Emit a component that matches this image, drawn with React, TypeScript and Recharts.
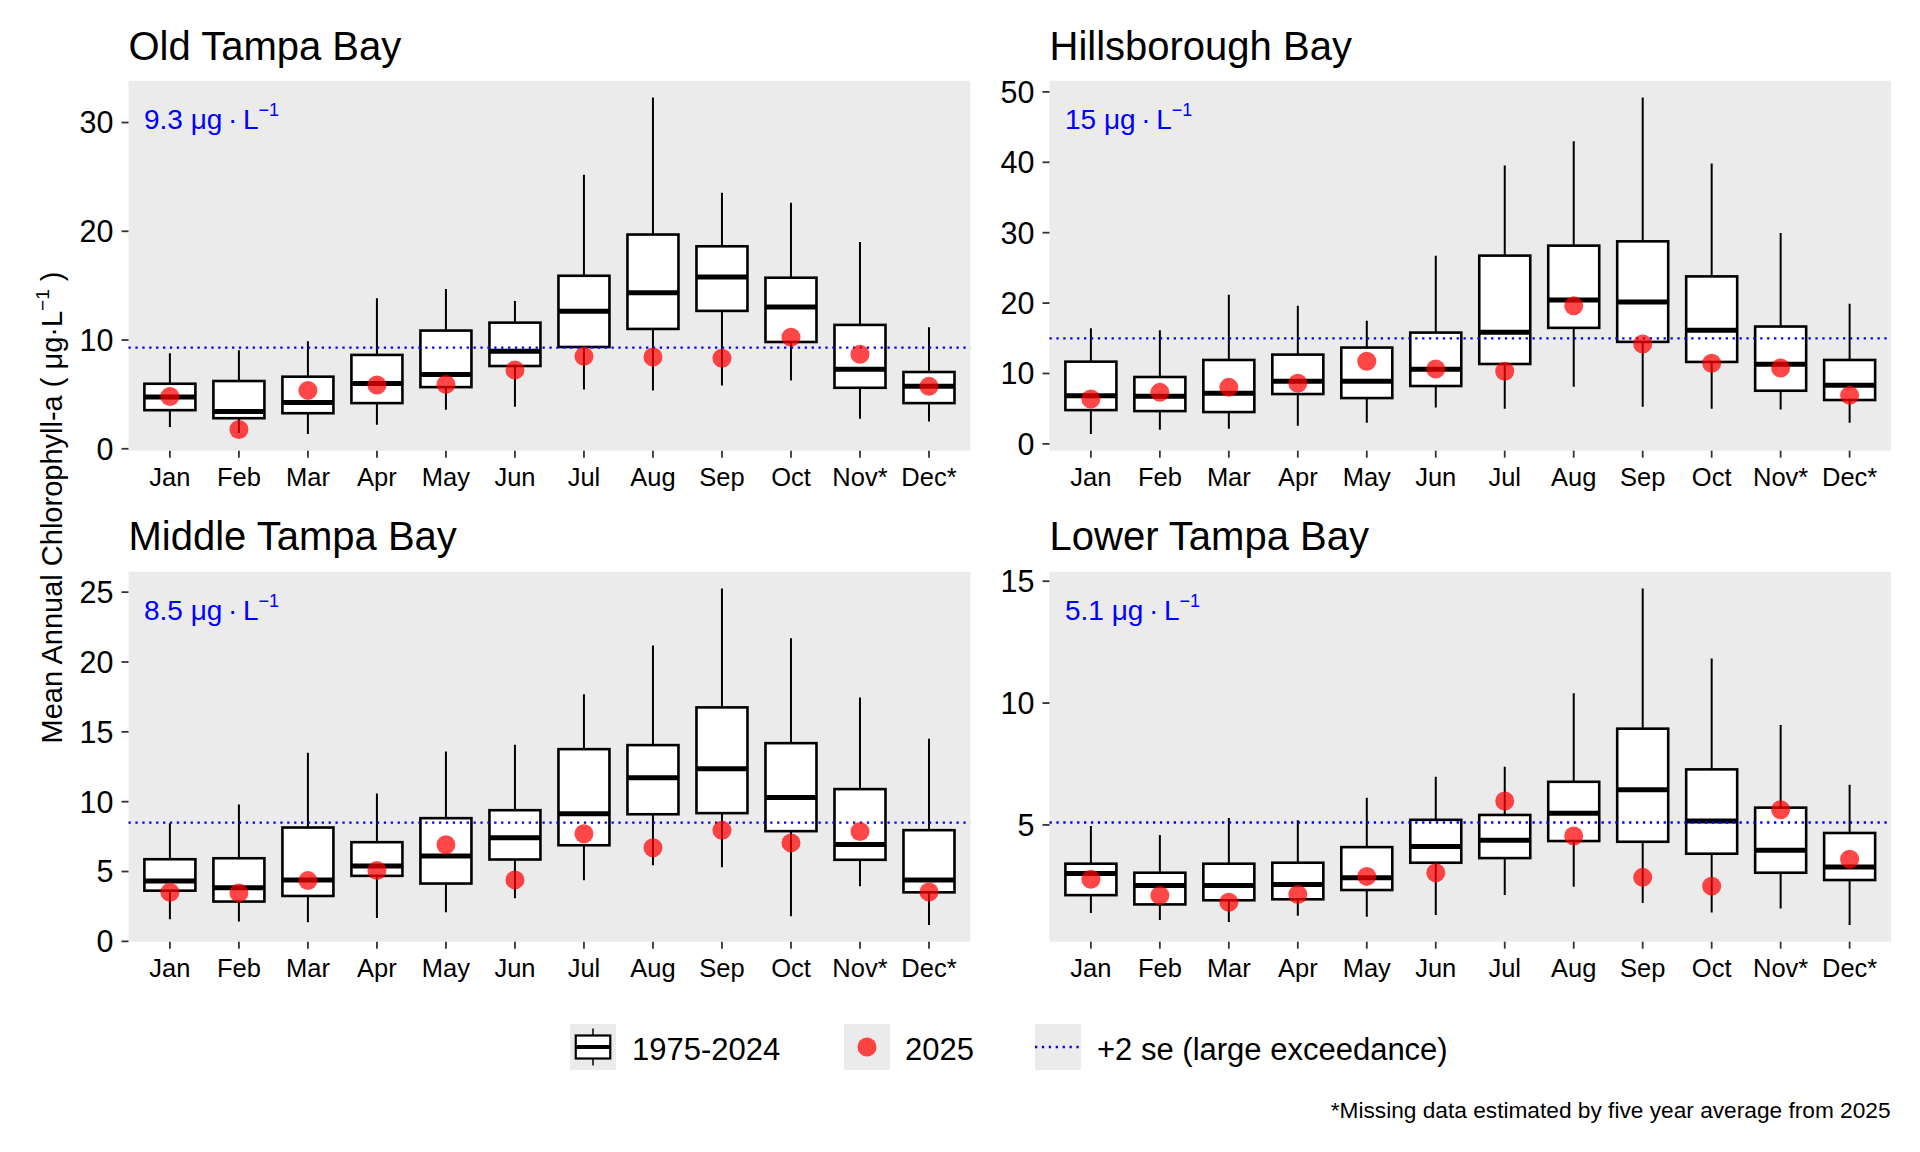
import React from 'react';
import { ComposedChart, Bar, Scatter, XAxis, YAxis, CartesianGrid, ReferenceLine } from 'recharts';

const MONTHS = ['Jan', 'Feb', 'Mar', 'Apr', 'May', 'Jun', 'Jul', 'Aug', 'Sep', 'Oct', 'Nov*', 'Dec*'];

// Old Tampa Bay (1975-2024 box stats and 2025 values)
const OTB_MIN = [2.0, 1.46, 1.37, 2.2, 3.58, 3.86, 5.46, 5.37, 5.83, 6.29, 2.75, 2.51];
const OTB_Q1 = [3.55, 2.81, 3.27, 4.2, 5.67, 7.61, 9.36, 11.02, 12.68, 9.82, 5.61, 4.2];
const OTB_MED = [4.75, 3.43, 4.26, 6.01, 6.84, 8.96, 12.65, 14.35, 15.79, 13.03, 7.31, 5.74];
const OTB_Q3 = [5.98, 6.23, 6.63, 8.63, 10.87, 11.6, 15.91, 19.7, 18.62, 15.73, 11.39, 7.06];
const OTB_MAX = [8.78, 9.06, 9.89, 13.85, 14.69, 13.58, 25.2, 32.3, 23.54, 22.62, 19.02, 11.18];
const OTB_2025 = [4.81, 1.77, 5.37, 5.86, 5.92, 7.24, 8.5, 8.44, 8.32, 10.26, 8.69, 5.74];
const OTB_TICKS = [0, 10, 20, 30];
const OTB_THRESH = 9.3;

// Hillsborough Bay
const HB_MIN = [1.42, 1.99, 2.14, 2.56, 2.99, 5.18, 4.99, 8.12, 5.27, 4.99, 4.9, 2.99];
const HB_Q1 = [4.8, 4.66, 4.52, 7.08, 6.51, 8.22, 11.35, 16.48, 14.49, 11.64, 7.55, 6.23];
const HB_MED = [6.84, 6.75, 7.18, 8.89, 8.89, 10.6, 15.87, 20.43, 20.14, 16.15, 11.31, 8.32];
const HB_Q3 = [11.68, 9.5, 11.92, 12.68, 13.68, 15.81, 26.74, 28.16, 28.77, 23.79, 16.67, 11.92];
const HB_MAX = [16.44, 16.15, 21.18, 19.62, 17.48, 26.74, 39.56, 42.98, 49.2, 39.84, 29.97, 19.9];
const HB_2025 = [6.37, 7.32, 8.03, 8.6, 11.74, 10.64, 10.31, 19.62, 14.2, 11.45, 10.78, 6.89];
const HB_TICKS = [0, 10, 20, 30, 40, 50];
const HB_THRESH = 15;

// Middle Tampa Bay
const MTB_MIN = [1.58, 1.43, 1.36, 1.68, 2.08, 3.08, 4.37, 5.45, 5.3, 1.79, 3.94, 1.18];
const MTB_Q1 = [3.63, 2.85, 3.25, 4.69, 4.14, 5.86, 6.88, 9.1, 9.18, 7.89, 5.84, 3.51];
const MTB_MED = [4.33, 3.83, 4.4, 5.4, 6.12, 7.41, 9.13, 11.71, 12.36, 10.3, 6.93, 4.4];
const MTB_Q3 = [5.88, 5.95, 8.15, 7.1, 8.82, 9.39, 13.76, 14.05, 16.75, 14.19, 10.9, 7.96];
const MTB_MAX = [8.46, 9.8, 13.5, 10.59, 13.6, 14.08, 17.69, 21.18, 25.26, 21.7, 17.45, 14.51];
const MTB_2025 = [3.51, 3.47, 4.35, 5.07, 6.91, 4.4, 7.7, 6.7, 7.96, 7.05, 7.86, 3.54];
const MTB_TICKS = [0, 5, 10, 15, 20, 25];
const MTB_THRESH = 8.5;

// Lower Tampa Bay
const LTB_MIN = [1.39, 1.1, 1.02, 1.27, 1.23, 1.31, 2.13, 2.46, 1.8, 1.41, 1.57, 0.9];
const LTB_Q1 = [2.12, 1.74, 1.91, 1.95, 2.33, 3.45, 3.64, 4.34, 4.31, 3.82, 3.04, 2.74];
const LTB_MED = [3.01, 2.52, 2.52, 2.56, 2.83, 4.12, 4.37, 5.48, 6.44, 5.16, 3.96, 3.27];
const LTB_Q3 = [3.41, 3.04, 3.41, 3.45, 4.09, 5.21, 5.41, 6.77, 8.95, 7.28, 5.71, 4.67];
const LTB_MAX = [4.96, 4.59, 5.29, 5.19, 6.12, 6.98, 7.39, 10.4, 14.7, 11.83, 9.1, 6.65];
const LTB_2025 = [2.77, 2.11, 1.83, 2.15, 2.89, 3.04, 5.98, 4.55, 2.85, 2.49, 5.62, 3.59];
const LTB_TICKS = [5, 10, 15];
const LTB_THRESH = 5.1;

const FONT = '"Liberation Sans", Arial, Helvetica, sans-serif';

const BoxShape = (props: any) => {
  const { x, y, width, height } = props;
  const p = props.payload || props;
  if (x == null || y == null) return null;
  const lo = p.min;
  const hi = p.max;
  const py = (v: number) => y + (height * (hi - v)) / (hi - lo);
  const cx = x + width / 2;
  return (
    <g>
      <line x1={cx} x2={cx} y1={py(hi)} y2={py(lo)} stroke="#000" strokeWidth={2} />
      <rect x={x} y={py(p.q3)} width={width} height={py(p.q1) - py(p.q3)} fill="#fff" stroke="#000" strokeWidth={2.6} />
      <line x1={x} x2={x + width} y1={py(p.med)} y2={py(p.med)} stroke="#000" strokeWidth={5} />
    </g>
  );
};

const DotShape = (props: any) => {
  const { cx, cy } = props;
  if (cx == null || cy == null) return null;
  return <circle cx={cx} cy={cy} r={9.5} fill="#FF0000" fillOpacity={0.72} />;
};

type PanelProps = {
  left: number;
  top: number;
  width: number;
  yAxisWidth: number;
  rightMargin: number;
  mins: number[];
  q1s: number[];
  meds: number[];
  q3s: number[];
  maxs: number[];
  curs: number[];
  ticks: number[];
  threshold: number;
};

function Panel(props: PanelProps) {
  const { left, top, width, yAxisWidth, rightMargin, mins, q1s, meds, q3s, maxs, curs, ticks, threshold } = props;
  const rows = MONTHS.map((m, i) => ({
    month: m,
    range: [mins[i], maxs[i]],
    min: mins[i],
    q1: q1s[i],
    med: meds[i],
    q3: q3s[i],
    max: maxs[i],
    cur: curs[i],
  }));
  const all = [...mins, ...maxs, ...curs];
  const lo = Math.min(...all);
  const hi = Math.max(...all);
  const pad = (hi - lo) * 0.05;
  const plotW = width - yAxisWidth - rightMargin;
  const xpad = plotW / 122;
  return (
    <div style={{ position: 'absolute', left, top }}>
      <ComposedChart
        width={width}
        height={500}
        data={rows}
        margin={{ top: 80.7, right: rightMargin, bottom: 9.3, left: 0 }}
        style={{ fontFamily: FONT }}
      >
        <CartesianGrid fill="#EBEBEB" stroke="none" horizontal={false} vertical={false} />
        <XAxis
          dataKey="month"
          type="category"
          interval={0}
          padding={{ left: xpad, right: xpad }}
          height={40}
          tickSize={7}
          tickMargin={10}
          axisLine={false}
          tickLine={{ stroke: '#333', strokeWidth: 1.8 }}
          tick={{ fontSize: 25.5, fill: '#000', fontFamily: FONT }}
        />
        <YAxis
          type="number"
          domain={[lo - pad, hi + pad]}
          allowDataOverflow
          ticks={ticks}
          interval={0}
          width={yAxisWidth}
          tickSize={7}
          tickMargin={8}
          axisLine={false}
          tickLine={{ stroke: '#333', strokeWidth: 1.8 }}
          tick={{ fontSize: 30.5, fill: '#000', fontFamily: FONT }}
        />
        <Bar dataKey="range" barSize={51} shape={BoxShape} isAnimationActive={false} />
        <ReferenceLine y={threshold} stroke="#0000FF" strokeWidth={2.3} strokeDasharray="2.3 4.6" />
        <Scatter dataKey="cur" shape={DotShape} isAnimationActive={false} />
      </ComposedChart>
    </div>
  );
}

const Unit = ({ x, y, value }: { x: number; y: number; value: string }) => (
  <text x={x} y={y} fill="#0000FF" fontSize={28} fontFamily={FONT}>
    {value + ' \u03BCg\u2009\u00B7\u2009L'}
    <tspan dy={-13.3} fontSize={18}>{'\u22121'}</tspan>
  </text>
);

export default function App() {
  const L1 = 128.5;
  const L2 = 1049.5;
  const T1 = 80.7;
  const T2 = 571.5;
  return (
    <div style={{ position: 'absolute', left: 0, top: 0, width: 1920, height: 1152, background: '#fff', fontFamily: FONT, overflow: 'hidden' }}>
      <Panel left={0} top={0} width={980} yAxisWidth={128.5} rightMargin={9.6}
        mins={OTB_MIN} q1s={OTB_Q1} meds={OTB_MED} q3s={OTB_Q3} maxs={OTB_MAX} curs={OTB_2025}
        ticks={OTB_TICKS} threshold={OTB_THRESH} />
      <Panel left={980} top={0} width={920} yAxisWidth={69.5} rightMargin={9}
        mins={HB_MIN} q1s={HB_Q1} meds={HB_MED} q3s={HB_Q3} maxs={HB_MAX} curs={HB_2025}
        ticks={HB_TICKS} threshold={HB_THRESH} />
      <Panel left={0} top={490.8} width={980} yAxisWidth={128.5} rightMargin={9.6}
        mins={MTB_MIN} q1s={MTB_Q1} meds={MTB_MED} q3s={MTB_Q3} maxs={MTB_MAX} curs={MTB_2025}
        ticks={MTB_TICKS} threshold={MTB_THRESH} />
      <Panel left={980} top={490.8} width={920} yAxisWidth={69.5} rightMargin={9}
        mins={LTB_MIN} q1s={LTB_Q1} meds={LTB_MED} q3s={LTB_Q3} maxs={LTB_MAX} curs={LTB_2025}
        ticks={LTB_TICKS} threshold={LTB_THRESH} />

      <svg width={1920} height={1152} style={{ position: 'absolute', left: 0, top: 0, pointerEvents: 'none' }}>
        <g fontFamily={FONT} fill="#000">
          <text x={L1} y={59.5} fontSize={40}>Old Tampa Bay</text>
          <text x={L2} y={59.5} fontSize={40}>Hillsborough Bay</text>
          <text x={L1} y={550} fontSize={40}>Middle Tampa Bay</text>
          <text x={L2} y={550} fontSize={40}>Lower Tampa Bay</text>
        </g>
        <Unit x={L1 + 15.5} y={T1 + 48.6} value={String(OTB_THRESH)} />
        <Unit x={L2 + 15.5} y={T1 + 48.6} value={String(HB_THRESH)} />
        <Unit x={L1 + 15.5} y={T2 + 48.6} value={String(MTB_THRESH)} />
        <Unit x={L2 + 15.5} y={T2 + 48.6} value={String(LTB_THRESH)} />

        <text transform="translate(62,507.5) rotate(-90)" textAnchor="middle" fontSize={29} fontFamily={FONT} fill="#000">
          {'Mean Annual Chlorophyll-a ( \u03BCg\u00B7L'}
          <tspan dy={-13} fontSize={19}>{'\u22121'}</tspan>
          <tspan dy={13}>{' )'}</tspan>
        </text>

        {/* legend */}
        <rect x={570} y={1024} width={46} height={46} fill="#EBEBEB" />
        <line x1={593} x2={593} y1={1028.6} y2={1065.4} stroke="#000" strokeWidth={1.5} />
        <rect x={575.75} y={1035.5} width={34.5} height={23} fill="#fff" stroke="#000" strokeWidth={2.2} />
        <line x1={575.75} x2={610.25} y1={1047} y2={1047} stroke="#000" strokeWidth={4} />
        <text x={632} y={1059.5} fontSize={31} fontFamily={FONT} fill="#000">1975-2024</text>

        <rect x={844} y={1024} width={46} height={46} fill="#EBEBEB" />
        <circle cx={867} cy={1047} r={9.5} fill="#FF0000" fillOpacity={0.72} />
        <text x={905} y={1059.5} fontSize={31} fontFamily={FONT} fill="#000">2025</text>

        <rect x={1035} y={1024} width={46} height={46} fill="#EBEBEB" />
        <line x1={1035} x2={1081} y1={1047} y2={1047} stroke="#0000FF" strokeWidth={2.3} strokeDasharray="2.3 4.6" />
        <text x={1097} y={1059.5} fontSize={31} fontFamily={FONT} fill="#000">+2 se (large exceedance)</text>

        <text x={1890.6} y={1118} textAnchor="end" fontSize={22.7} fontFamily={FONT} fill="#000">
          *Missing data estimated by five year average from 2025
        </text>
      </svg>
    </div>
  );
}
